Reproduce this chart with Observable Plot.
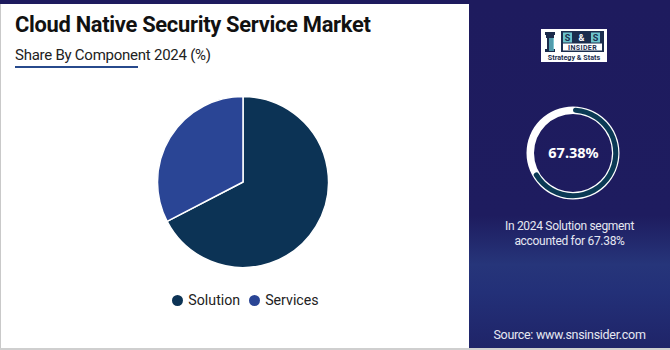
<!DOCTYPE html>
<html>
<head>
<meta charset="utf-8">
<script src="https://cdn.jsdelivr.net/npm/d3@7"></script>
<script src="https://cdn.jsdelivr.net/npm/@observablehq/plot@0.6"></script>
<style>
  html, body { margin: 0; padding: 0; }
  body { width: 670px; height: 350px; overflow: hidden; font-family: Roboto, "Open Sans", sans-serif; background: #fff; }
  #root { position: relative; width: 670px; height: 350px; }
  #left { position: absolute; left: 0; top: 0; width: 469px; height: 348px; background: #fff; border-left: 1px solid #c9c9c9; box-sizing: border-box; }
  #topbar { position: absolute; left: 0; top: 0; width: 670px; height: 4px; background: #1e1b5e; }
  #bottomline { position: absolute; left: 0; top: 348px; width: 670px; height: 2px; background: #cfcfcf; }
  #right { position: absolute; left: 469px; top: 0; width: 201px; height: 348px;
    background: linear-gradient(to bottom, #1e1b5e 0%, #1e1c5f 62%, #26357a 76%, #233078 84%, #1f2468 100%); }
  .title { position: absolute; left: 14px; top: 12px; font-size: 21.9px; font-weight: 700; color: #111; letter-spacing: -0.3px; white-space: nowrap; }
  .subtitle { position: absolute; left: 14px; top: 46px; font-size: 15px; color: #222; white-space: nowrap; letter-spacing: -0.25px; }
  .underline { position: absolute; left: 14px; top: 66px; width: 123px; height: 2px; background: #274a8c; }
  #pie { position: absolute; left: 143px; top: 82px; }
  #legend { position: absolute; left: 0; top: 292px; width: 469px; display: flex; justify-content: center; gap: 9px; font-size: 14.2px; color: #222; padding-left: 22px; box-sizing: border-box; }
  .item { display: flex; align-items: center; gap: 5px; }
  .sw { width: 11px; height: 11px; border-radius: 50%; display: inline-block; }
  #donut { position: absolute; left: 523px; top: 103px; }
  .rtext { position: absolute; left: 469px; width: 201px; text-align: center; color: #e6e8f2; font-size: 12px; letter-spacing: -0.3px; }
  #logo { position: absolute; left: 541px; top: 29px; width: 66px; height: 33px; background: #fff; }
</style>
</head>
<body>
<div id="root">
  <div id="left">
    <div class="title">Cloud Native Security Service Market</div>
    <div class="subtitle">Share By Component 2024 (%)</div>
    <div class="underline"></div>
  </div>
  <div id="right"></div>
  <div id="topbar"></div>
  <div id="bottomline"></div>
  <div id="pie"></div>
  <div id="legend"></div>
  <div id="logo">
    <svg width="66" height="33" viewBox="0 0 66 33">
      <g fill="#1b2a4a">
        <rect x="4" y="3" width="10" height="3"/>
        <rect x="5" y="6" width="8" height="3"/>
        <rect x="6" y="9" width="6" height="11"/>
        <rect x="4" y="20" width="10" height="3"/>
      </g>
      <rect x="8" y="9" width="5" height="13" fill="#5fb8c4" opacity="0.8"/>
      <rect x="20" y="2" width="43" height="21" fill="#1c2e4e"/>
      <rect x="22" y="3.5" width="9" height="10" fill="#6cc4cc"/>
      <rect x="50" y="3.5" width="9" height="10" fill="#6cc4cc"/>
      <text x="26.5" y="12" font-size="9" font-weight="700" fill="#1c2e4e" text-anchor="middle" font-family="Roboto">S</text>
      <text x="40.5" y="12" font-size="9" font-weight="700" fill="#fff" text-anchor="middle" font-family="Roboto">&amp;</text>
      <text x="54.5" y="12" font-size="9" font-weight="700" fill="#1c2e4e" text-anchor="middle" font-family="Roboto">S</text>
      <rect x="22" y="14.5" width="39" height="7" fill="#fff"/>
      <text x="41.5" y="20.8" font-size="7" font-weight="700" fill="#1c2e4e" text-anchor="middle" font-family="Roboto" letter-spacing="0.4">INSIDER</text>
      <text x="33" y="30.5" font-size="7.2" font-weight="700" fill="#1c2e4e" text-anchor="middle" font-family="Roboto">Strategy &amp; Stats</text>
    </svg>
  </div>
  <div id="donut"></div>
  <div class="rtext" style="top:219px; line-height:15px;">In 2024 Solution segment<br>accounted for 67.38%</div>
  <div class="rtext" style="top:327px; font-size:12.5px;">Source: www.snsinsider.com</div>
</div>
<script>
// ---- data ----
const categories = ["Solution", "Services"];
const shares = [67.38, 32.62];
const colors = ["#0c3355", "#2a4595"];
const highlightValue = 67.38;
const highlightLabel = "67.38%";

const table = categories.map((c, i) => ({category: c, share: shares[i]}));

// ---- pie (Plot custom render mark) ----
const pieSize = 200;
const pieRadius = 85.5;
const piePlot = Plot.plot({
  width: pieSize,
  height: pieSize,
  margin: 0,
  color: {domain: categories, range: colors},
  marks: [
    (index, scales, values, dimensions, context) => {
      const svgNS = "http://www.w3.org/2000/svg";
      const g = context.document.createElementNS(svgNS, "g");
      const cx = dimensions.width / 2, cy = dimensions.height / 2;
      g.setAttribute("transform", `translate(${cx},${cy})`);
      const arcs = d3.pie().sort(null).value(d => d.share)(table);
      const arc = d3.arc().innerRadius(0).outerRadius(pieRadius);
      for (const a of arcs) {
        const p = context.document.createElementNS(svgNS, "path");
        p.setAttribute("d", arc(a));
        p.setAttribute("fill", scales.color(a.data.category));
        p.setAttribute("stroke", "#ffffff");
        p.setAttribute("stroke-width", "1.5");
        p.setAttribute("stroke-linejoin", "round");
        g.appendChild(p);
      }
      return g;
    },
    Plot.dot(table, {x: () => 0, y: () => 0, fill: "category", r: 0, opacity: 0})
  ],
  x: {axis: null},
  y: {axis: null}
});
document.getElementById("pie").appendChild(piePlot);

// ---- legend ----
const legend = document.getElementById("legend");
categories.forEach((c, i) => {
  const it = document.createElement("span");
  it.className = "item";
  it.innerHTML = `<span class="sw" style="background:${colors[i]}"></span><span>${c}</span>`;
  legend.appendChild(it);
});

// ---- donut (right panel) ----
const donutPlot = Plot.plot({
  width: 100,
  height: 100,
  margin: 0,
  style: {background: "transparent"},
  marks: [
    (index, scales, values, dimensions, context) => {
      const svgNS = "http://www.w3.org/2000/svg";
      const g = context.document.createElementNS(svgNS, "g");
      g.setAttribute("transform", `translate(${dimensions.width / 2},${dimensions.height / 2})`);
      const ring = context.document.createElementNS(svgNS, "path");
      ring.setAttribute("d", d3.arc().innerRadius(39).outerRadius(46.5).startAngle(0).endAngle(2 * Math.PI)());
      ring.setAttribute("fill", "#ffffff");
      g.appendChild(ring);
      const fg = context.document.createElementNS(svgNS, "path");
      fg.setAttribute("d", d3.arc().innerRadius(40.2).outerRadius(45.3).cornerRadius(2.6)
        .startAngle(0).endAngle(2 * Math.PI * highlightValue / 100)());
      fg.setAttribute("fill", "#0b3a55");
      g.appendChild(fg);
      return g;
    },
    Plot.text([highlightLabel], {x: () => 0, y: () => 0, text: d => d, fill: "#ffffff",
      fontSize: 14.5, fontWeight: 700, frameAnchor: "middle"})
  ],
  x: {axis: null},
  y: {axis: null}
});
donutPlot.style.background = "transparent";
document.getElementById("donut").appendChild(donutPlot);
</script>
</body>
</html>
